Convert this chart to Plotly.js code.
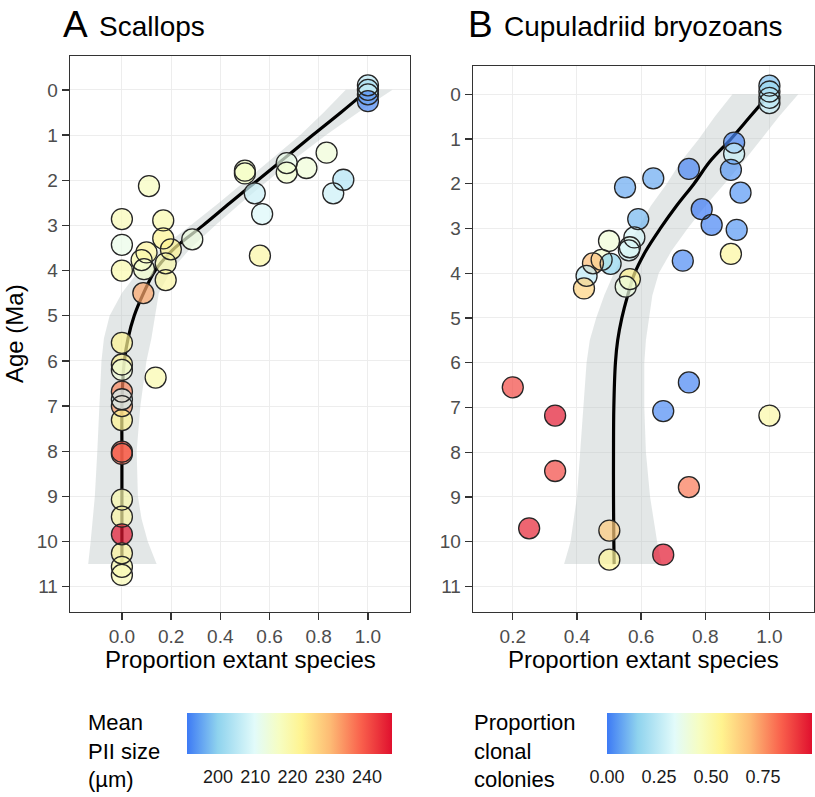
<!DOCTYPE html>
<html>
<head>
<meta charset="utf-8">
<script src="https://cdn.plot.ly/plotly-3.0.1.min.js"></script>
<style>
  html, body { margin: 0; padding: 0; background: #fff; }
  #graph { width: 815px; height: 797px; }
</style>
</head>
<body>
<div id="graph"></div>
<script>
/* ----- Data --------------------------- */

// A: scallops, proportion extant, age (Ma), mean PII size (um)
var scalExtant = [1.0, 1.0, 1.0, 1.0, 0.832, 0.67, 0.75, 0.50, 0.67, 0.50, 0.90, 0.11, 0.54, 0.859,
    0.57, 0.0, 0.168, 0.168, 0.286, 0.0, 0.199, 0.10, 0.561, 0.08, 0.178, 0.09, 0.0, 0.178, 0.087,
    0.0, 0.0, 0.0, 0.137, 0.0, 0.0, 0.0, 0.0, 0.0, 0.0, 0.0, 0.0, 0.0, 0.0, 0.0, 0.0];
var scalAge = [-0.1, 0.0, 0.1, 0.25, 1.39, 1.62, 1.73, 1.79, 1.83, 1.85, 1.99, 2.13, 2.29, 2.29,
    2.75, 2.86, 2.89, 3.29, 3.31, 3.43, 3.53, 3.6, 3.67, 3.77, 3.84, 3.97, 4.0, 4.21, 4.5,
    5.6, 6.08, 6.2, 6.37, 6.68, 7.0, 6.85, 7.31, 8.01, 8.06, 9.07, 9.45, 9.84, 10.26, 10.56, 10.74];
var scalPII = [205, 203, 206, 193, 214, 212, 214, 216, 215, 216, 204, 217, 207, 207,
    209, 218, 219, 222, 213, 212, 222, 221, 220, 219, 219, 215, 219, 220, 232,
    222, 222, 214, 219, 235, 233, 208, 222, 240, 238, 219, 220, 246, 221, 219, 218];

// A: smoother and its confidence band
var scalFitAge = [0, 0.5, 1, 1.5, 2, 2.5, 3, 3.5, 4, 4.5, 5, 5.5, 6, 6.5, 7, 8, 9, 10, 10.5];
var scalFit = [1.0, 0.89, 0.776, 0.664, 0.552, 0.44, 0.33, 0.215, 0.135, 0.088, 0.05, 0.025, 0.01, 0.003, 0, 0, 0, 0, 0];
var scalBandAge = [0, 0.5, 1, 1.5, 2, 2.5, 3, 3.5, 4, 4.5, 5, 5.5, 6, 7, 8, 9, 9.5, 10, 10.5];
var scalBandLo = [0.91, 0.82, 0.725, 0.615, 0.505, 0.395, 0.28, 0.16, 0.07, 0.0, -0.05, -0.073, -0.083, -0.09, -0.1, -0.11, -0.117, -0.127, -0.137];
var scalBandHi = [1.10, 0.96, 0.83, 0.71, 0.595, 0.485, 0.38, 0.28, 0.2, 0.15, 0.134, 0.12, 0.1, 0.075, 0.06, 0.065, 0.08, 0.105, 0.141];

// B: cupuladriid bryozoans, proportion extant, age (Ma), proportion clonal colonies
var bryoExtant = [1.0, 1.0, 1.0, 1.0, 0.89, 0.89, 0.749, 0.88, 0.638, 0.55, 0.91, 0.789, 0.591, 0.82,
    0.898, 0.579, 0.50, 0.565, 0.562, 0.88, 0.477, 0.73, 0.505, 0.45, 0.43, 0.565, 0.552, 0.422,
    0.749, 0.2, 0.669, 0.332, 1.0, 0.332, 0.749, 0.251, 0.501, 0.669, 0.501];
var bryoAge = [-0.19, -0.06, 0.08, 0.2, 1.08, 1.33, 1.67, 1.69, 1.88, 2.08, 2.2, 2.57, 2.79, 2.92,
    3.03, 3.2, 3.28, 3.42, 3.49, 3.57, 3.7, 3.72, 3.79, 3.78, 4.06, 4.13, 4.3, 4.34,
    6.44, 6.55, 7.08, 7.18, 7.18, 8.42, 8.78, 9.7, 9.75, 10.29, 10.4];
var bryoClonal = [0.12, 0.18, 0.22, 0.26, 0.02, 0.27, 0.02, 0.05, 0.08, 0.08, 0.05, 0.0, 0.1, 0.02,
    0.05, 0.3, 0.4, 0.35, 0.3, 0.52, 0.42, 0.03, 0.15, 0.68, 0.25, 0.55, 0.38, 0.63,
    0.02, 0.88, 0.03, 0.97, 0.5, 0.88, 0.8, 0.95, 0.65, 0.97, 0.53];

// B: smoother and its confidence band
var bryoFitAge = [0, 0.5, 1, 1.5, 2, 2.5, 3, 3.5, 4, 4.5, 5, 5.5, 6, 7, 8, 9, 10, 10.5];
var bryoFit = [1.0, 0.94, 0.88, 0.815, 0.765, 0.71, 0.66, 0.615, 0.58, 0.558, 0.54, 0.527, 0.52, 0.515, 0.514, 0.514, 0.515, 0.516];
var bryoBandLo = [0.885, 0.83, 0.78, 0.725, 0.68, 0.63, 0.59, 0.55, 0.515, 0.485, 0.46, 0.44, 0.43, 0.42, 0.41, 0.40, 0.38, 0.36];
var bryoBandHi = [1.09, 1.03, 0.975, 0.92, 0.86, 0.8, 0.745, 0.695, 0.655, 0.635, 0.625, 0.615, 0.61, 0.61, 0.615, 0.628, 0.65, 0.664];

var ageTicks = [0, 1, 2, 3, 4, 5, 6, 7, 8, 9, 10, 11];
var scalXTicks = [0, 0.2, 0.4, 0.6, 0.8, 1.0];
var bryoXTicks = [0.2, 0.4, 0.6, 0.8, 1.0];
var piiTicks = [200, 210, 220, 230, 240];
var clonalTicks = [0, 0.25, 0.5, 0.75];

/* ----- Styling ------- */
var W = 815, H = 797;
function fx(p) { return p / W; }
function fy(p) { return 1 - p / H; }

var colorscale = [
    [0, '#3D7AF5'], [0.15, '#8FD3EE'], [0.33, '#E2FBFA'], [0.45, '#F6FDC2'],
    [0.56, '#FFF38F'], [0.7, '#FDBA74'], [0.85, '#F9604C'], [1, '#E0102E']
];
var bandColor = 'rgba(185,195,195,0.4)';
var outline = '#262626';

function band(ages, lo, hi, xa, ya) {
    return {
        x: lo.concat(hi.slice().reverse()),
        y: ages.concat(ages.slice().reverse()),
        xaxis: xa, yaxis: ya,
        mode: 'lines', fill: 'toself', fillcolor: bandColor,
        line: {width: 0}, hoverinfo: 'skip'
    };
}

function fit(ages, xs, xa, ya) {
    return {
        x: xs, y: ages, xaxis: xa, yaxis: ya,
        mode: 'lines', line: {color: '#000', width: 3.2, shape: 'spline'},
        hoverinfo: 'skip'
    };
}

function fills(xs, ys, vals, xa, ya, cmin, cmax, bar) {
    return {
        x: xs, y: ys, xaxis: xa, yaxis: ya, mode: 'markers',
        marker: {
            size: 21, color: vals, colorscale: colorscale, cmin: cmin, cmax: cmax,
            opacity: 0.7, line: {width: 0},
            showscale: true, colorbar: bar
        }
    };
}

function rings(xs, ys, xa, ya) {
    return {
        x: xs, y: ys, xaxis: xa, yaxis: ya, mode: 'markers',
        marker: {size: 21, color: 'rgba(0,0,0,0)', line: {color: outline, width: 1.3}},
        hoverinfo: 'skip'
    };
}

// horizontal key under each panel; white ticks only push the labels down
function colorbar(left, right, vals, fmt) {
    return {
        orientation: 'h',
        x: fx((left + right) / 2), xanchor: 'center',
        y: fy(713), yanchor: 'top',
        len: right - left, lenmode: 'pixels',
        thickness: 41, thicknessmode: 'pixels',
        outlinewidth: 0, xpad: 0, ypad: 0,
        tickvals: vals, tickformat: fmt,
        ticks: 'outside', ticklen: 8, tickcolor: '#fff', tickwidth: 1,
        tickfont: {size: 18, color: '#1a1a1a'}
    };
}

var data = [
    band(scalBandAge, scalBandLo, scalBandHi, 'x', 'y'),
    fit(scalFitAge, scalFit, 'x', 'y'),
    fills(scalExtant, scalAge, scalPII, 'x', 'y', 191.7, 246.7, colorbar(187, 392, piiTicks, 'd')),
    rings(scalExtant, scalAge, 'x', 'y'),
    band(bryoFitAge, bryoBandLo, bryoBandHi, 'x2', 'y2'),
    fit(bryoFitAge, bryoFit, 'x2', 'y2'),
    fills(bryoExtant, bryoAge, bryoClonal, 'x2', 'y2', 0, 0.985, colorbar(607, 812, clonalTicks, '.2f')),
    rings(bryoExtant, bryoAge, 'x2', 'y2')
];

var axisCommon = {
    showline: true, mirror: true, linecolor: '#333', linewidth: 1.3,
    showgrid: true, gridcolor: '#EBEBEB', gridwidth: 0.9,
    zeroline: false, ticks: 'outside', ticklen: 7, tickcolor: '#333', tickwidth: 1.3,
    tickfont: {size: 19, color: '#4D4D4D'}, automargin: false
};

function axis(extra) {
    return Object.assign({}, axisCommon, extra);
}

var titleFont = {size: 24, color: '#000'};
var keyFont = {size: 22, color: '#000'};

var layout = {
    width: W, height: H,
    margin: {l: 0, r: 0, t: 0, b: 0},
    paper_bgcolor: '#fff', plot_bgcolor: '#fff',
    font: {family: 'Liberation Sans, Arial, sans-serif'},
    showlegend: false,
    xaxis: axis({domain: [fx(70), fx(410)], range: [-0.211, 1.171], tickvals: scalXTicks,
        tickformat: '.1f', anchor: 'y'}),
    yaxis: axis({domain: [fy(612), fy(56)], range: [11.56, -0.75], tickvals: ageTicks, anchor: 'x'}),
    xaxis2: axis({domain: [fx(473), fx(814)], range: [0.076, 1.139], tickvals: bryoXTicks,
        tickformat: '.1f', anchor: 'y2'}),
    yaxis2: axis({domain: [fy(612), fy(66)], range: [11.57, -0.63], tickvals: ageTicks, anchor: 'x2'}),
    annotations: [
        {text: 'A', x: fx(61), y: fy(24), xanchor: 'left', yanchor: 'middle', font: {size: 37, color: '#000'}},
        {text: 'Scallops', x: fx(97), y: fy(26), xanchor: 'left', yanchor: 'middle', font: {size: 28, color: '#000'}},
        {text: 'B', x: fx(466), y: fy(24), xanchor: 'left', yanchor: 'middle', font: {size: 37, color: '#000'}},
        {text: 'Cupuladriid bryozoans', x: fx(502), y: fy(26), xanchor: 'left', yanchor: 'middle', font: {size: 28, color: '#000'}},
        {text: 'Age (Ma)', x: fx(15), y: fy(334), xanchor: 'center', yanchor: 'middle', textangle: -90, font: titleFont},
        {text: 'Proportion extant species', x: fx(240), y: fy(659), xanchor: 'center', yanchor: 'middle', font: titleFont},
        {text: 'Proportion extant species', x: fx(643), y: fy(659), xanchor: 'center', yanchor: 'middle', font: titleFont},
        {text: 'Mean<br>PII size<br>(µm)', x: fx(86), y: fy(751), xanchor: 'left', yanchor: 'middle', align: 'left', font: keyFont},
        {text: 'Proportion<br>clonal<br>colonies', x: fx(472), y: fy(751), xanchor: 'left', yanchor: 'middle', align: 'left', font: keyFont}
    ]
};
layout.annotations.forEach(function (a) { a.xref = 'paper'; a.yref = 'paper'; a.showarrow = false; });

var graph = document.getElementById('graph');
Plotly.newPlot(graph, data, layout, {staticPlot: true, displayModeBar: false});
</script>
</body>
</html>
